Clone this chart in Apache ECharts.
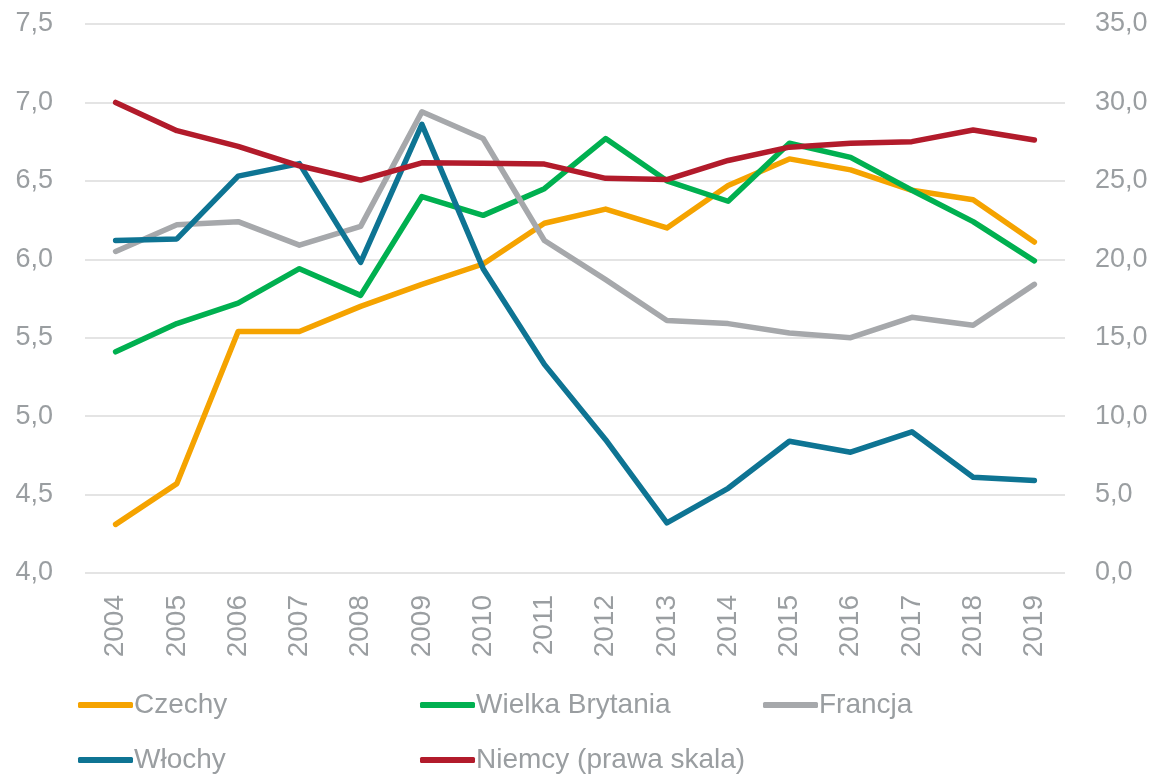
<!DOCTYPE html>
<html>
<head>
<meta charset="utf-8">
<script src="https://cdn.jsdelivr.net/npm/echarts@6/dist/echarts.min.js"></script>
<style>
  html, body { margin: 0; padding: 0; background: #fff; }
  #chart { width: 1155px; height: 774px; }
</style>
</head>
<body>
<div id="chart"></div>
<script>
// lata
var years = ['2004', '2005', '2006', '2007', '2008', '2009', '2010', '2011',
  '2012', '2013', '2014', '2015', '2016', '2017', '2018', '2019'];

// lewa skala
var czechy = [4.31, 4.57, 5.54, 5.54, 5.70, 5.84, 5.97, 6.23, 6.32, 6.20, 6.47, 6.64, 6.57, 6.44, 6.38, 6.11];
var wielkaBrytania = [5.41, 5.59, 5.72, 5.94, 5.77, 6.40, 6.28, 6.45, 6.77, 6.50, 6.37, 6.74, 6.65, 6.44, 6.24, 5.99];
var francja = [6.05, 6.22, 6.24, 6.09, 6.21, 6.94, 6.77, 6.12, 5.87, 5.61, 5.59, 5.53, 5.50, 5.63, 5.58, 5.84];
var wlochy = [6.12, 6.13, 6.53, 6.61, 5.98, 6.86, 5.94, 5.33, 4.85, 4.32, 4.54, 4.84, 4.77, 4.90, 4.61, 4.59];
// prawa skala
var niemcy = [30.0, 28.2, 27.2, 25.96, 25.05, 26.15, 26.13, 26.07, 25.16, 25.08, 26.3, 27.15, 27.4, 27.5, 28.24, 27.6];

var fontName = 'Liberation Sans';
var txtColor = '#9a9ea1';

function fmt(v) {
  return v.toFixed(1).replace('.', ',');
}

function mkLine(name, data, color, yIdx) {
  return {
    name: name,
    type: 'line',
    yAxisIndex: yIdx,
    data: data,
    symbol: 'none',
    lineStyle: { color: color, width: 5.5, cap: 'round', join: 'round' },
    itemStyle: { color: color }
  };
}

function mkLegend(name, left, top) {
  return {
    data: [name],
    left: left,
    top: top,
    itemWidth: 55,
    itemHeight: 6,
    itemGap: 0,
    icon: 'roundRect',
    textStyle: { fontFamily: fontName, fontSize: 28, color: txtColor, padding: [0, 0, 0, -4] }
  };
}

var myChart = echarts.init(document.getElementById('chart'));

var option = {
  animation: false,
  backgroundColor: '#fff',
  grid: { left: 85, right: 90, top: 24, bottom: 201 },
  legend: [
    mkLegend('Czechy', 73, 686),
    mkLegend('Wielka Brytania', 415, 686),
    mkLegend('Francja', 758, 686),
    mkLegend('Włochy', 73, 741),
    mkLegend('Niemcy (prawa skala)', 415, 741)
  ],
  xAxis: {
    type: 'category',
    data: years,
    boundaryGap: true,
    axisLine: { show: false },
    axisTick: { show: false },
    axisLabel: {
      rotate: 90,
      margin: 22,
      fontFamily: fontName,
      fontSize: 28,
      color: txtColor
    }
  },
  yAxis: [
    {
      type: 'value',
      min: 4,
      max: 7.5,
      interval: 0.5,
      axisLine: { show: false },
      axisTick: { show: false },
      splitLine: { lineStyle: { color: '#e4e4e4', width: 2 } },
      axisLabel: {
        margin: 32,
        fontFamily: fontName,
        fontSize: 27,
        color: txtColor,
        formatter: fmt
      }
    },
    {
      type: 'value',
      min: 0,
      max: 35,
      interval: 5,
      axisLine: { show: false },
      axisTick: { show: false },
      splitLine: { show: false },
      axisLabel: {
        margin: 30,
        fontFamily: fontName,
        fontSize: 27,
        color: txtColor,
        formatter: fmt
      }
    }
  ],
  series: [
    mkLine('Czechy', czechy, '#f5a300', 0),
    mkLine('Wielka Brytania', wielkaBrytania, '#00b050', 0),
    mkLine('Francja', francja, '#a6a8ab', 0),
    mkLine('Włochy', wlochy, '#0e7493', 0),
    mkLine('Niemcy (prawa skala)', niemcy, '#b21b2b', 1)
  ]
};

myChart.setOption(option);
</script>
</body>
</html>
